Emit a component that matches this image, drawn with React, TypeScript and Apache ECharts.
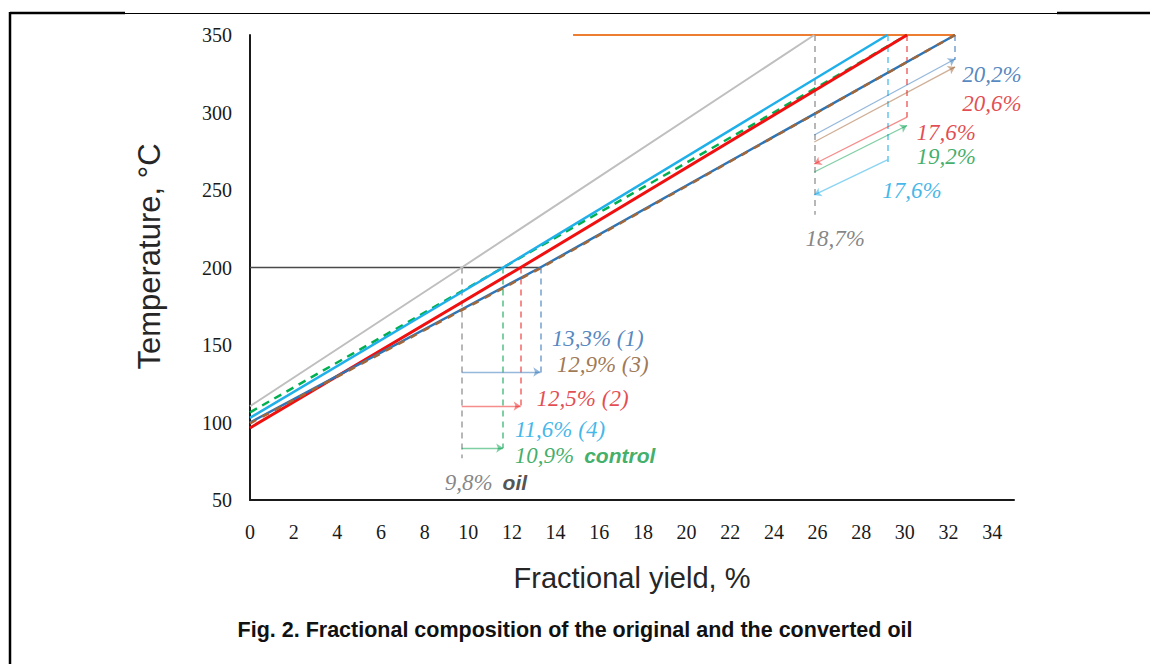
import React, { useEffect, useRef } from "react";
import * as echarts from "echarts";

// Axis settings
const X_MIN = 0;
const X_MAX = 35;
const X_STEP = 2;
const Y_MIN = 50;
const Y_MAX = 350;
const Y_STEP = 50;

// Main distillation lines [yield %, temperature °C]
const grayLine = [[0, 110.5], [9.7, 200], [25.85, 350]];
const greenLine = [[0, 106.5], [11.6, 200], [22.4, 287], [30.1, 350]];
const cyanLine = [[0, 103], [11.6, 200], [29.2, 350]];
const redLine = [[0, 96.5], [12.4, 200], [30.1, 350]];
const blueLine = [[0, 100], [13.3, 200], [32.3, 350]];
const brownLine = [[0, 99.5], [13.3, 199.5], [32.3, 350]];

// Horizontal reference lines
const line200 = [[0, 200], [13.3, 200]];
const line350 = [[14.8, 350], [32.3, 350]];

// Dashed drop lines: [x, yFrom, yTo, colorKey]
const dropLines: [number, number, number, string][] = [
  [9.7, 200, 77, "gray"],
  [11.6, 200, 83.5, "green"],
  [12.4, 200, 110.6, "red"],
  [13.3, 200, 131, "blue"],
  [25.85, 350, 234, "gray"],
  [29.2, 350, 268, "cyan"],
  [30.1, 350, 297, "red"],
  [32.3, 350, 334, "blue"],
];

// Arrows: [x1, y1, x2, y2, colorKey] (head at second point)
const arrows: [number, number, number, number, string][] = [
  [9.7, 132.6, 13.3, 132.6, "blue"],
  [9.7, 110.6, 12.4, 110.6, "red"],
  [9.7, 83.5, 11.6, 83.5, "green"],
  [25.85, 285.5, 32.3, 334.5, "blue"],
  [25.85, 281, 32.3, 329.4, "brown"],
  [30.1, 297, 25.85, 266.8, "red"],
  [25.85, 261.6, 30.1, 291.6, "green"],
  [29.2, 269.4, 25.85, 246.8, "cyan"],
];

// Annotation labels: [x, y, text, colorKey, suffix]
const labels: [number, number, string, string, string][] = [
  [32.63, 324.2, "20,2%", "blue", ""],
  [32.63, 306.1, "20,6%", "red", ""],
  [30.53, 287.4, "17,6%", "red", ""],
  [30.53, 271.3, "19,2%", "green", ""],
  [28.97, 250, "17,6%", "cyan", ""],
  [25.45, 219, "18,7%", "gray", ""],
  [13.82, 154.5, "13,3% (1)", "blue", ""],
  [14.05, 137.1, "12,9% (3)", "brown", ""],
  [13.13, 115.8, "12,5% (2)", "red", ""],
  [12.13, 95.4, "11,6% (4)", "cyan", ""],
  [12.13, 78.4, "10,9%", "green", "control"],
  [8.92, 61.3, "9,8%", "gray", "oil"],
];

const COLORS: Record<string, string> = {
  gray: "#707070",
  green: "#00a04a",
  red: "#ee1c1c",
  blue: "#2e72b8",
  cyan: "#15aae8",
  brown: "#a0602e",
};
const LABEL_COLORS: Record<string, string> = {
  gray: "#666666",
  green: "#0f9a44",
  red: "#dc1c26",
  blue: "#2a68b0",
  cyan: "#12a5e4",
  brown: "#87562a",
};

export default function App() {
  const ref = useRef<HTMLDivElement>(null);
  useEffect(() => {
    if (!ref.current) return;
    const chart = echarts.init(ref.current, null, { renderer: "svg" });
    const mainLine = (data: number[][], color: string, width: number, dashed?: number[], z = 3) => ({
      type: "line",
      data,
      symbol: "none",
      silent: true,
      z,
      lineStyle: { color, width, type: dashed ? dashed : "solid", cap: "butt" },
    });
    const option: any = {
      animation: false,
      grid: { left: 250, top: 35, right: 136, bottom: 164, containLabel: false },
      title: {
        text: "Fig. 2. Fractional composition of the original and the converted oil",
        left: "center",
        top: 614,
        textStyle: { fontFamily: "Liberation Sans", fontWeight: "bold", fontSize: 21.5, color: "#111" },
      },
      xAxis: {
        type: "value",
        min: X_MIN,
        max: X_MAX,
        interval: X_STEP,
        name: "Fractional yield, %",
        nameLocation: "middle",
        nameGap: 63,
        nameTextStyle: { fontFamily: "Liberation Sans", fontSize: 29, color: "#262626" },
        axisLine: { show: true, lineStyle: { color: "#1a1a1a", width: 2 } },
        axisTick: { show: false },
        splitLine: { show: false },
        axisLabel: {
          margin: 22,
          fontFamily: "Liberation Serif",
          fontSize: 20,
          color: "#1a1a1a",
          formatter: (v: number) => (v % 2 === 0 ? String(v) : ""),
        },
      },
      yAxis: {
        type: "value",
        min: Y_MIN,
        max: Y_MAX,
        interval: Y_STEP,
        name: "Temperature, °C",
        nameLocation: "middle",
        nameRotate: 90,
        nameGap: 85,
        nameTextStyle: {
          fontFamily: "Liberation Sans",
          fontSize: 31,
          color: "#262626",
          padding: [0, 0, 0, 22],
        },
        axisLine: { show: true, lineStyle: { color: "#1a1a1a", width: 2 } },
        axisTick: { show: false },
        splitLine: { show: false },
        axisLabel: { margin: 18, fontFamily: "Liberation Serif", fontSize: 20, color: "#1a1a1a" },
      },
      series: [
        mainLine(line200, "#4a4a4a", 1.5, undefined, 2),
        mainLine(line350, "#ed7d31", 2, undefined, 2),
        mainLine(grayLine, "#bfbfbf", 2),
        mainLine(greenLine, "#00b050", 2.5, [8, 6]),
        mainLine(cyanLine, "#1fb0ea", 2.5),
        mainLine(redLine, "#f01010", 3),
        mainLine(blueLine, "#2e75b6", 2.5),
        mainLine(brownLine, "#a0673a", 2.5, [7, 7], 4),
        {
          type: "lines",
          coordinateSystem: "cartesian2d",
          silent: true,
          z: 2,
          symbol: ["none", "none"],
          data: dropLines.map(([x, y1, y2, c]) => ({
            coords: [[x, y1], [x, y2]],
            lineStyle: { color: COLORS[c], width: 2, type: [6, 5] },
          })),
        },
        {
          type: "lines",
          coordinateSystem: "cartesian2d",
          silent: true,
          z: 5,
          symbol: ["none", "arrow"],
          symbolSize: 7,
          data: arrows.map(([x1, y1, x2, y2, c]) => ({
            coords: [[x1, y1], [x2, y2]],
            lineStyle: { color: COLORS[c], width: 1.3, type: "solid" },
          })),
        },
        {
          type: "scatter",
          silent: true,
          symbolSize: 0,
          z: 6,
          data: labels.map(([x, y, t, c, s]) => ({
            value: [x, y],
            label: {
              show: true,
              position: "right",
              distance: 0,
              formatter: s ? `{a|${t}}   {b|${s}}` : `{a|${t}}`,
              rich: {
                a: {
                  fontFamily: "Liberation Serif",
                  fontStyle: "italic",
                  fontSize: 23,
                  lineHeight: 19,
                  color: LABEL_COLORS[c],
                },
                b: {
                  fontFamily: "Liberation Sans",
                  fontStyle: "italic",
                  fontWeight: "bold",
                  fontSize: 21,
                  lineHeight: 19,
                  color: s === "oil" ? "#262626" : LABEL_COLORS.green,
                },
              },
            },
          })),
        },
      ],
      graphic: [
        { type: "line", shape: { x1: 10, y1: 13, x2: 125, y2: 13 }, style: { stroke: "#000", lineWidth: 2.5 } },
        { type: "line", shape: { x1: 125, y1: 13.5, x2: 1057, y2: 13.5 }, style: { stroke: "#000", lineWidth: 1 } },
        { type: "line", shape: { x1: 1057, y1: 13, x2: 1150, y2: 13 }, style: { stroke: "#000", lineWidth: 2.5 } },
        { type: "line", shape: { x1: 10, y1: 12, x2: 10, y2: 664 }, style: { stroke: "#000", lineWidth: 2.5 } },
      ],
    };
    chart.setOption(option);
    return () => chart.dispose();
  }, []);
  return (
    <div
      ref={ref}
      style={{ position: "fixed", left: 0, top: 0, width: 1150, height: 664, background: "#fff" }}
    />
  );
}
